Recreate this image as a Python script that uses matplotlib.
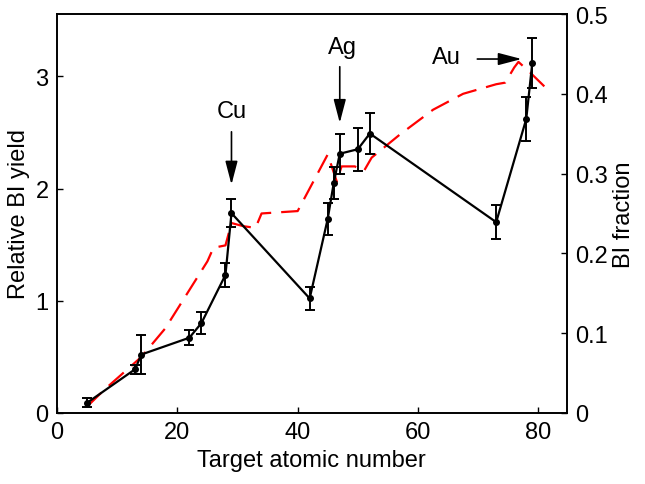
import matplotlib
matplotlib.use("Agg")
import matplotlib.pyplot as plt

plt.rcParams["font.family"] = ["Liberation Sans", "DejaVu Sans"]

# measured BI yield (left axis)
z_meas = [5, 13, 14, 22, 24, 28, 29, 42, 45, 46, 47, 50, 52, 73, 78, 79]
yield_meas = [0.09, 0.39, 0.52, 0.67, 0.80, 1.23, 1.78, 1.02, 1.73, 2.05, 2.31,
              2.35, 2.49, 1.70, 2.62, 3.12]
yield_err = [0.04, 0.04, 0.17, 0.065, 0.10, 0.11, 0.125, 0.10, 0.14, 0.14, 0.18,
             0.19, 0.18, 0.15, 0.20, 0.22]

# calculated BI fraction (right axis)
z_calc = [5, 8, 14, 18, 22.5, 25, 26, 28, 29, 31, 33, 34, 40, 45, 46.5, 47.3,
          49.5, 51, 52.3, 57, 62.5, 67.5, 73, 74.5, 76, 76.7, 78.6, 82]
frac_calc = [0.008, 0.03, 0.07, 0.106, 0.16, 0.19, 0.207, 0.21, 0.238, 0.234,
             0.232, 0.25, 0.253, 0.324, 0.29, 0.309, 0.309, 0.303, 0.32, 0.349,
             0.38, 0.40, 0.412, 0.414, 0.433, 0.44, 0.427, 0.402]

fig = plt.figure(figsize=(6.45, 4.85), dpi=100)
ax = fig.add_axes([0.0884, 0.1466, 0.790, 0.8224])
ax2 = ax.twinx()

ax2.plot(z_calc, frac_calc, color="#ff0000", lw=1.6, dashes=(9, 4.5), zorder=1)
ax.errorbar(z_meas, yield_meas, yerr=yield_err, color="black", lw=1.6,
            marker="o", ms=4, capsize=3.5, capthick=1.4, elinewidth=1.4, zorder=3)
ax.set_zorder(ax2.get_zorder() + 1)
ax.patch.set_visible(False)

ax.set_xlim(0, 84.7)
ax.set_ylim(0, 3.555)
ax2.set_ylim(0, 0.5)
ax.set_xticks([0, 20, 40, 60, 80])
ax.set_yticks([0, 1, 2, 3])
ax2.set_yticks([0, 0.1, 0.2, 0.3, 0.4, 0.5])
ax2.set_yticklabels(["0", "0.1", "0.2", "0.3", "0.4", "0.5"])

for a in (ax, ax2):
    a.tick_params(direction="in", length=4, width=1, labelsize=17, pad=6)
    for s in a.spines.values():
        s.set_linewidth(1.2)

ax.set_xlabel("Target atomic number", fontsize=17)
ax.set_ylabel("Relative BI yield", fontsize=17)
ax2.set_ylabel("BI fraction", fontsize=17)

arrow = dict(arrowstyle="-|>,head_length=0.65,head_width=0.17", color="black",
             lw=1.2, mutation_scale=22)
ax.annotate("", xy=(29, 2.01), xytext=(29, 2.53), arrowprops=arrow)
ax.text(29, 2.69, "Cu", ha="center", va="center", fontsize=17)
ax.annotate("", xy=(47, 2.56), xytext=(47, 3.11), arrowprops=arrow)
ax.text(47.5, 3.26, "Ag", ha="center", va="center", fontsize=17)
ax.annotate("", xy=(77.7, 3.154), xytext=(69.4, 3.154), arrowprops=arrow)
ax.text(64.7, 3.17, "Au", ha="center", va="center", fontsize=17)

fig.savefig("out.png", dpi=100)
